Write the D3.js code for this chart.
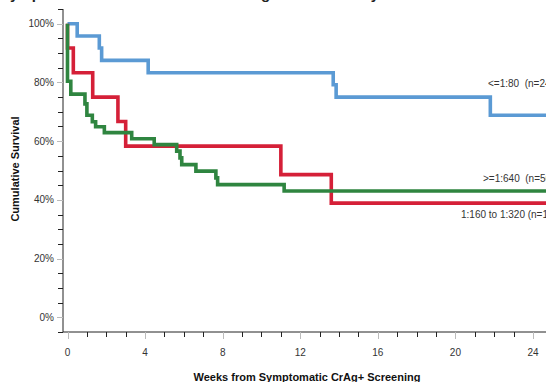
<html>
  <script src="https://d3js.org/d3.v7.min.js"></script>
  <style>
    body,
    html {
      margin: 0;
      padding: 0;
      background: white;
      overflow: hidden;
    }
    text {
      font-family: "Liberation Sans", Arial, sans-serif;
    }
    .curve-label {
      white-space: pre;
    }
  </style>
  <body>
    <svg id="km" width="546" height="382"></svg>
    <script>
      // step points: weeks and cumulative survival
      const blueWeeks = [0, 0.5, 1.64, 1.76, 4.16, 13.7, 13.85, 21.8, 25.5];
      const blueSurv = [1, 0.958, 0.917, 0.875, 0.833, 0.792, 0.75, 0.688, 0.688];

      const redWeeks = [0, 0, 0.3, 1.3, 2.6, 3.0, 11.0, 13.6, 25.5];
      const redSurv = [1, 0.917, 0.833, 0.75, 0.667, 0.583, 0.486, 0.389, 0.389];

      const greenWeeks = [0, 0, 0.17, 0.9, 1.0, 1.28, 1.45, 1.9, 3.31, 4.47, 5.63, 5.8, 5.89, 6.62, 7.65, 7.74, 11.17, 25.5];
      const greenSurv = [1, 0.804, 0.76, 0.727, 0.688, 0.666, 0.649, 0.629, 0.608, 0.588, 0.566, 0.543, 0.52, 0.498, 0.475, 0.452, 0.43, 0.43];

      const seriesNames = ["<=1:80  (n=24)", "1:160 to 1:320 (n=12)", ">=1:640  (n=56)"];
      const xTickValues = [0, 4, 8, 12, 16, 20, 24];
      const yTickValues = [0, 0.2, 0.4, 0.6, 0.8, 1];

      const svg = d3.select("#km");

      const x = d3.scaleLinear().domain([0, 24]).range([67.5, 533]);
      const y = d3.scaleLinear().domain([-0.05, 1.05]).range([332, 9]);

      // title, mostly off the top of the picture
      svg
        .append("text")
        .attr("x", 220)
        .attr("y", -1)
        .attr("text-anchor", "middle")
        .style("font-size", "15px")
        .style("font-weight", "bold")
        .attr("fill", "#222")
        .text("Symptomatic Cohort: Survival Among Titer Levels by Stratum");

      // y axis: minor ticks black, major ticks grey
      const yAxis = svg.append("g").attr("transform", "translate(63,0)");
      yAxis
        .append("line")
        .attr("y1", y(-0.05))
        .attr("y2", y(1.05))
        .attr("stroke", "#222");
      yAxis
        .selectAll("line.minor")
        .data(d3.range(-0.05, 1.06, 0.05).filter((d) => Math.round(d * 100) % 20 !== 0))
        .join("line")
        .attr("class", "minor")
        .attr("x1", -5)
        .attr("x2", 0)
        .attr("y1", (d) => Math.round(y(d)) + 0.5)
        .attr("y2", (d) => Math.round(y(d)) + 0.5)
        .attr("stroke", "#222");
      yAxis
        .selectAll("line.major")
        .data(yTickValues)
        .join("line")
        .attr("class", "major")
        .attr("x1", -6)
        .attr("x2", 0)
        .attr("y1", (d) => Math.round(y(d)) + 0.5)
        .attr("y2", (d) => Math.round(y(d)) + 0.5)
        .attr("stroke", "#bbb");
      yAxis
        .selectAll("text")
        .data(yTickValues)
        .join("text")
        .attr("x", -9)
        .attr("y", (d) => y(d) + 3.5)
        .attr("text-anchor", "end")
        .style("font-size", "10px")
        .attr("fill", "#333")
        .text(d3.format(".0%"));

      // x axis
      const xAxis = svg.append("g").attr("transform", "translate(0,332)");
      xAxis
        .append("line")
        .attr("x1", 63)
        .attr("x2", 546)
        .attr("stroke", "#222");
      xAxis
        .selectAll("line.minor")
        .data(d3.range(1, 25).filter((d) => d % 4 !== 0))
        .join("line")
        .attr("class", "minor")
        .attr("x1", (d) => Math.round(x(d)) + 0.5)
        .attr("x2", (d) => Math.round(x(d)) + 0.5)
        .attr("y1", 0)
        .attr("y2", 5)
        .attr("stroke", "#222");
      xAxis
        .selectAll("line.major")
        .data(xTickValues)
        .join("line")
        .attr("class", "major")
        .attr("x1", (d) => Math.round(x(d)) + 0.5)
        .attr("x2", (d) => Math.round(x(d)) + 0.5)
        .attr("y1", 0)
        .attr("y2", 7)
        .attr("stroke", "#bbb");
      xAxis
        .selectAll("text")
        .data(xTickValues)
        .join("text")
        .attr("x", (d) => x(d))
        .attr("y", 24)
        .attr("text-anchor", "middle")
        .style("font-size", "10px")
        .attr("fill", "#333")
        .text((d) => d);

      // axis titles
      svg
        .append("text")
        .attr("transform", "translate(19,169) rotate(-90)")
        .attr("text-anchor", "middle")
        .style("font-size", "11px")
        .style("font-weight", "bold")
        .attr("fill", "#111")
        .text("Cumulative Survival");
      svg
        .append("text")
        .attr("x", 307)
        .attr("y", 381)
        .attr("text-anchor", "middle")
        .style("font-size", "11px")
        .style("font-weight", "bold")
        .attr("fill", "#111")
        .text("Weeks from Symptomatic CrAg+ Screening");

      // curves
      const line = d3
        .line()
        .x((d) => x(d[0]))
        .y((d) => y(d[1]))
        .curve(d3.curveStepAfter);

      const curves = [
        { weeks: blueWeeks, surv: blueSurv, color: "#5b9ad4" },
        { weeks: redWeeks, surv: redSurv, color: "#d52038" },
        { weeks: greenWeeks, surv: greenSurv, color: "#2f8540" },
      ];

      svg
        .append("g")
        .selectAll("path")
        .data(curves)
        .join("path")
        .attr("d", (c) => line(d3.zip(c.weeks, c.surv)))
        .attr("fill", "none")
        .attr("stroke", (c) => c.color)
        .attr("stroke-width", 3.6)
        .attr("stroke-linejoin", "miter");

      // labels at the right end of each curve (run off the right edge, as in the source)
      const labelX = [488, 461, 483];
      const labelY = [87, 218, 182];
      svg
        .append("g")
        .selectAll("text")
        .data(seriesNames)
        .join("text")
        .attr("class", "curve-label")
        .attr("x", (d, i) => labelX[i])
        .attr("y", (d, i) => labelY[i])
        .style("font-size", "10px")
        .attr("fill", "#333")
        .text((d) => d);
    </script>
  </body>
</html>
